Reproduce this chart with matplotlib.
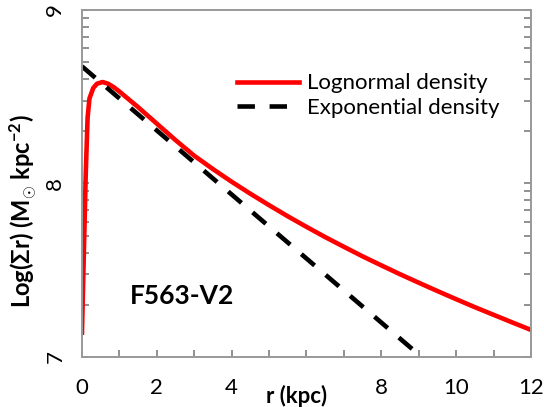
import numpy as np
import matplotlib
matplotlib.use('Agg')
from matplotlib import pyplot as plt
from matplotlib.ticker import FixedLocator, FuncFormatter, LogLocator, NullFormatter

plt.rcParams['font.family'] = ['Lato', 'DejaVu Sans']
plt.rcParams['mathtext.fontset'] = 'custom'
plt.rcParams['mathtext.rm'] = 'Lato'
plt.rcParams['mathtext.bf'] = 'Lato:bold'
plt.rcParams['mathtext.default'] = 'bf'

# radio (kpc) y log10 de la densidad superficial * r
r_logn = [0, 0.05, 0.1, 0.15, 0.2, 0.3, 0.4, 0.55, 0.7, 0.85, 1.0, 1.25, 1.5, 2,
          2.5, 3, 3.5, 4, 4.5, 5, 5.5, 6, 6.5, 7, 7.5, 8, 8.5, 9, 9.5, 10, 10.5,
          11, 11.5, 12]
log_logn = [7.14, 7.6, 8.05, 8.38, 8.49, 8.55, 8.575, 8.585, 8.575, 8.555, 8.53,
            8.485, 8.44, 8.345, 8.25, 8.16, 8.083, 8.01, 7.941, 7.875, 7.811, 7.75,
            7.691, 7.635, 7.58, 7.528, 7.477, 7.428, 7.38, 7.333, 7.287, 7.243,
            7.199, 7.156]
r_exp = [0, 12]
log_exp = [8.675, 6.46]

etiquetas_x = ['0', '2', '4', '', '8', '10', '12']

fig = plt.figure(figsize=(5.44, 4.07), dpi=100)
ax = fig.add_axes([0.1507, 0.1229, 0.8254, 0.8525])

ax.plot(r_logn, 10 ** np.array(log_logn), color='#ff0000', lw=3.3,
        label='Lognormal density')
ax.plot(r_exp, 10 ** np.array(log_exp), color='black', lw=3.3, ls=(0, (3.8, 3.2)),
        label='Exponential density')

ax.set_yscale('log')
ax.set_xlim(0, 12)
ax.set_ylim(1e7, 1e9)

ax.xaxis.set_major_locator(FixedLocator(range(0, 13, 2)))
ax.xaxis.set_minor_locator(FixedLocator(range(1, 12, 2)))
ax.set_xticklabels(etiquetas_x)
ax.yaxis.set_major_locator(FixedLocator([1e7, 1e8, 1e9]))
ax.yaxis.set_minor_locator(LogLocator(base=10, subs=np.arange(2, 10)))
ax.yaxis.set_major_formatter(FuncFormatter(lambda v, p: '%d' % round(np.log10(v))))
ax.yaxis.set_minor_formatter(NullFormatter())

for s in ax.spines.values():
    s.set_color('#999999')
    s.set_linewidth(1.4)

ax.tick_params(axis='both', which='both', direction='in', color='#888888',
               width=1.3, length=5, labelsize=16, labelcolor='black')
ax.tick_params(axis='x', which='major', pad=15)
ax.tick_params(axis='y', which='both', right=True)
ax.tick_params(axis='y', which='major', pad=12)
for t in ax.get_yticklabels():
    t.set_rotation(90)
    t.set_va('center')

fig.text(23 / 544, 1 - 211 / 407, 'Log(Σr) (M$_{\\odot}$ kpc$^{-2}$)', fontsize=17,
         fontweight='bold', rotation=90, ha='center', va='center')
fig.text(297 / 544, 1 - 385 / 407, 'r (kpc)', ha='center', va='top', fontsize=16,
         fontweight='bold')

ax.text(1.28, 10 ** 7.35, 'F563-V2', fontsize=19, fontweight='bold', va='center')

ax.legend(loc='upper right', bbox_to_anchor=(0.975, 0.875), frameon=False,
          fontsize=16, handlelength=2.8, handletextpad=0.35, labelspacing=0.2)

fig.savefig('out.png', dpi=100)
